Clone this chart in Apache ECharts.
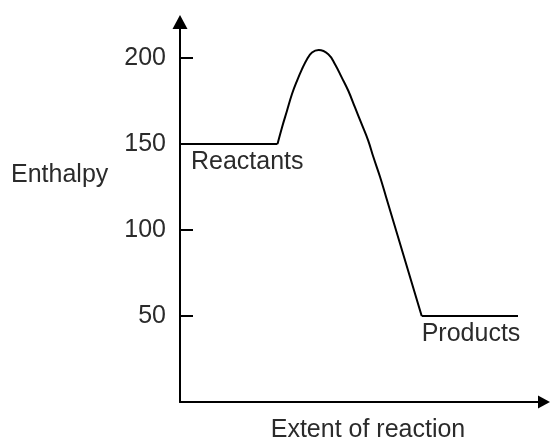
<!DOCTYPE html>
<html>
<head>
<meta charset="utf-8">
<script src="https://cdn.jsdelivr.net/npm/echarts@6/dist/echarts.min.js"></script>
<style>
  html, body { margin: 0; padding: 0; background: #fff; }
  #chart { width: 550px; height: 446px; }
</style>
</head>
<body>
<div id="chart"></div>
<script>
// reactant level, barrier curve, product level (x = extent, y = enthalpy)
const reactX = [0, 97.5]
const reactY = [150, 150]
const barrierX = [97.5, 102, 107, 112, 117, 122, 127, 132, 138.7, 148.3, 155, 161.7, 168.3, 175, 181.7, 188.3, 193.3, 200, 206, 241.7]
const barrierY = [150, 159.7, 169.4, 179.1, 186.8, 193.6, 199.4, 203.3, 204.7, 202.3, 196.5, 188.8, 181, 171.3, 161.6, 151.9, 142.6, 131, 119.4, 50]
const prodX = [241.7, 338]
const prodY = [50, 50]
const yTicks = [50, 100, 150, 200]

const textColor = '#2b2b2b'
const font = 'Liberation Sans, Arial, sans-serif'

function pairs(xs, ys) {
  return xs.map((x, i) => [x, ys[i]])
}

const chart = echarts.init(document.querySelector('#chart'))
const option = {
  animation: false,
  title: {
    text: 'Enthalpy',
    left: 11,
    top: 163,
    padding: 0,
    textStyle: {
      color: textColor,
      fontSize: 25,
      fontWeight: 'normal',
      fontFamily: font,
    },
  },
  grid: {
    left: 180,
    right: 6,
    top: 22,
    bottom: 44,
    containLabel: false,
    outerBoundsMode: 'none',
  },
  xAxis: {
    type: 'value',
    min: 0,
    max: 364,
    name: 'Extent of reaction',
    nameLocation: 'middle',
    nameGap: 16,
    nameTextStyle: {
      color: textColor,
      fontSize: 25,
      fontFamily: font,
      verticalAlign: 'top',
      padding: [0, 0, 0, 12],
    },
    axisLine: {
      onZero: false,
      symbol: ['none', 'triangle'],
      symbolSize: [13, 12],
      lineStyle: { color: '#000', width: 2 },
    },
    axisTick: { show: false },
    axisLabel: { show: false },
    splitLine: { show: false },
  },
  yAxis: {
    type: 'value',
    min: 0,
    max: 221,
    axisLine: {
      show: true,
      symbol: ['none', 'triangle'],
      symbolSize: [15, 14],
      lineStyle: { color: '#000', width: 2 },
    },
    axisTick: {
      show: true,
      inside: true,
      length: 13,
      customValues: yTicks,
      lineStyle: { color: '#000', width: 2 },
    },
    axisLabel: {
      customValues: yTicks,
      margin: 14,
      color: textColor,
      fontSize: 25,
      fontFamily: font,
    },
    splitLine: { show: false },
  },
  series: [
    {
      name: 'Reactants',
      type: 'line',
      data: pairs(reactX, reactY),
      symbol: 'none',
      lineStyle: { color: '#000', width: 2 },
      markPoint: {
        symbol: 'circle',
        symbolSize: 0,
        data: [{ coord: [reactX[0], reactY[0]] }],
        label: {
          show: true,
          formatter: 'Reactants',
          position: [11, 6],
          color: textColor,
          fontSize: 25,
          fontFamily: font,
        },
      },
    },
    {
      name: 'Barrier',
      type: 'line',
      data: pairs(barrierX, barrierY),
      symbol: 'none',
      smooth: 0.4,
      lineStyle: { color: '#000', width: 2 },
    },
    {
      name: 'Products',
      type: 'line',
      data: pairs(prodX, prodY),
      symbol: 'none',
      lineStyle: { color: '#000', width: 2 },
      markPoint: {
        symbol: 'circle',
        symbolSize: 0,
        data: [{ coord: [prodX[0], prodY[0]] }],
        label: {
          show: true,
          formatter: 'Products',
          position: [0, 6],
          color: textColor,
          fontSize: 25,
          fontFamily: font,
        },
      },
    },
  ],
}
chart.setOption(option)
</script>
</body>
</html>
